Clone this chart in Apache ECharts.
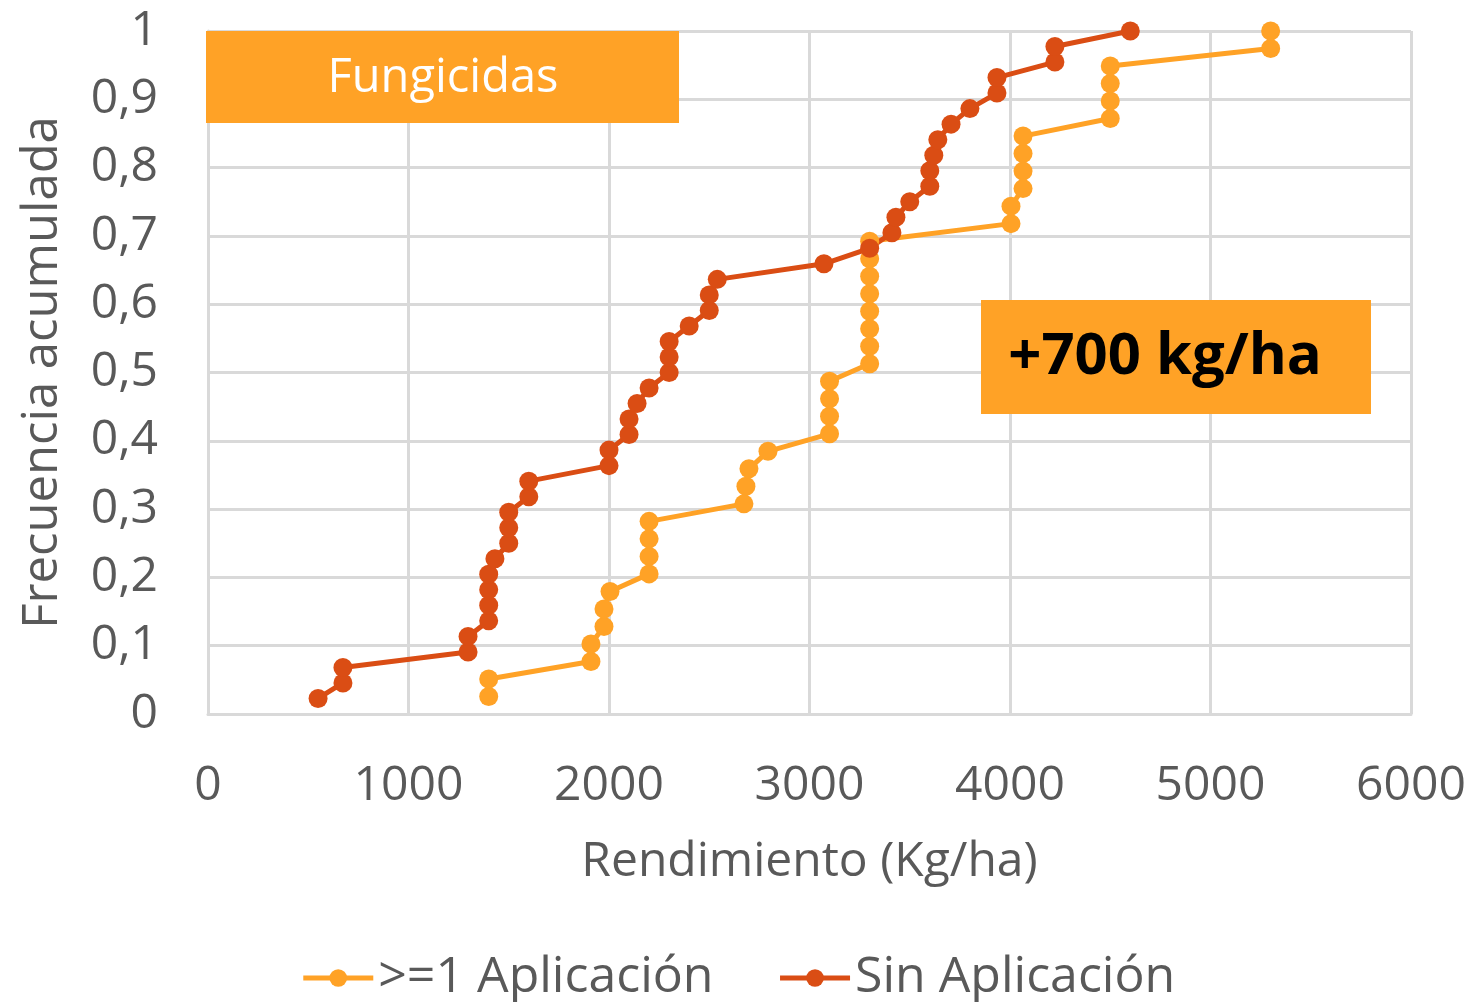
<!DOCTYPE html>
<html lang="es">
<head>
    <meta charset="UTF-8">
    <title>Fungicidas - Frecuencia acumulada</title>
    <script src="https://cdn.jsdelivr.net/npm/echarts/dist/echarts.min.js"></script>
    <style>
        body { margin: 0; padding: 0; background: #fff; }
        #chartContainer { width: 1476px; height: 1002px; }
    </style>
</head>
<body>
    <div id="chartContainer"></div>
    <script>
        // rendimiento (kg/ha) por punto, ordenado; la frecuencia es i/n
        const conAplicacion = [1400, 1400, 1910, 1910, 1975, 1975, 2005, 2200, 2200, 2200, 2200,
            2673, 2683, 2698, 2793, 3100, 3100, 3100, 3100, 3300, 3300, 3300, 3300, 3300, 3300, 3300, 3300,
            4005, 4005, 4065, 4065, 4065, 4065, 4500, 4500, 4500, 4500, 5300, 5300];
        const sinAplicacion = [549, 673, 673, 1297, 1297, 1400, 1400, 1400, 1400, 1431, 1500, 1500, 1500,
            1600, 1600, 2000, 2000, 2100, 2100, 2140, 2200, 2300, 2300, 2300, 2400, 2500, 2500, 2540,
            3072, 3300, 3411, 3431, 3500, 3600, 3600, 3620, 3640, 3706, 3800, 3935, 3935, 4224, 4224, 4600];

        const serieNames = ['>=1 Aplicación', 'Sin Aplicación'];
        const colores = ['#FFA226', '#DA4D14'];

        function acumulada(vals) {
            return vals.map((v, i) => [v, (i + 1) / vals.length]);
        }

        const chart = echarts.init(document.getElementById('chartContainer'));
        const fuente = 'Open Sans';
        const gris = '#595959';
        const rejilla = { color: '#d9d9d9', width: 3 };

        const option = {
            animation: false,
            textStyle: { fontFamily: fuente },
            grid: { left: 208, right: 65, top: 31, bottom: 288, outerBoundsMode: 'none', containLabel: false },
            xAxis: {
                type: 'value',
                min: 0, max: 6000, interval: 1000,
                name: 'Rendimiento (Kg/ha)',
                nameLocation: 'middle',
                nameGap: 124,
                nameTextStyle: { fontSize: 48, color: gris, fontFamily: fuente },
                axisLine: { show: true, lineStyle: rejilla },
                axisTick: { show: false },
                axisLabel: { fontSize: 48, color: gris, margin: 48, fontFamily: fuente, formatter: v => String(v) },
                splitLine: { show: true, lineStyle: rejilla }
            },
            yAxis: {
                type: 'value',
                min: 0, max: 1, interval: 0.1,
                name: 'Frecuencia acumulada',
                nameLocation: 'middle',
                nameGap: 140,
                nameTextStyle: { fontSize: 49, color: gris, fontFamily: fuente },
                axisLine: { show: true, lineStyle: rejilla },
                axisTick: { show: false },
                axisLabel: {
                    fontSize: 48, color: gris, margin: 50, fontFamily: fuente,
                    formatter: v => String(Math.round(v * 10) / 10).replace('.', ',')
                },
                splitLine: { show: true, lineStyle: rejilla }
            },
            legend: {
                bottom: -6,
                left: 'center',
                itemWidth: 70,
                itemHeight: 22,
                itemGap: 64,
                lineStyle: { width: 5 },
                textStyle: { fontSize: 50, color: gris, fontFamily: fuente },
                data: serieNames
            },
            series: serieNames.map((name, k) => ({
                name: name,
                type: 'line',
                data: acumulada(k === 0 ? conAplicacion : sinAplicacion),
                symbol: 'circle',
                symbolSize: 19,
                itemStyle: { color: colores[k] },
                lineStyle: { color: colores[k], width: 5 }
            })),
            graphic: [
                {
                    type: 'group', left: 206, top: 31, z: 100,
                    children: [
                        { type: 'rect', z: 100, shape: { width: 473, height: 92 }, style: { fill: '#FFA226' } },
                        {
                            type: 'text', z: 101, x: 237, y: 48,
                            style: { text: 'Fungicidas', fill: '#fff', font: '47px "Open Sans"', align: 'center', verticalAlign: 'middle' }
                        }
                    ]
                },
                {
                    type: 'group', left: 981, top: 300, z: 100,
                    children: [
                        { type: 'rect', z: 100, shape: { width: 390, height: 114 }, style: { fill: '#FFA226' } },
                        {
                            type: 'text', z: 101, x: 184, y: 57,
                            style: { text: '+700 kg/ha', fill: '#000', font: 'bold 58px "Open Sans"', align: 'center', verticalAlign: 'middle' }
                        }
                    ]
                }
            ]
        };

        chart.setOption(option);
    </script>
</body>
</html>
